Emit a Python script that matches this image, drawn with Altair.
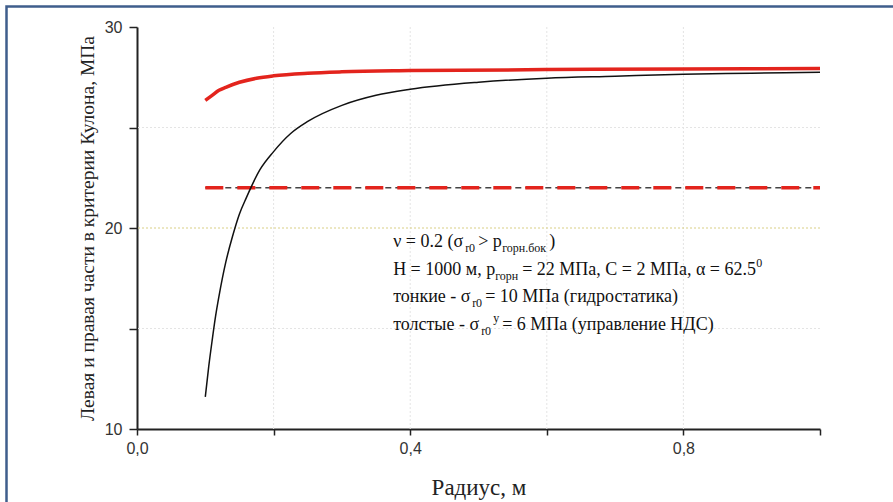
import altair as alt
import pandas as pd

# ---- data ----
black_r = [0.1, 0.105, 0.11, 0.115, 0.12, 0.13, 0.14, 0.15, 0.16, 0.18, 0.2, 0.225,
           0.25, 0.3, 0.35, 0.4, 0.5, 0.6, 0.7, 0.8, 0.9, 1.0]
black_v = [11.6, 13.1, 14.4, 15.6, 16.6, 18.3, 19.6, 20.7, 21.5, 22.9, 23.8, 24.7,
           25.3, 26.1, 26.6, 26.9, 27.25, 27.45, 27.55, 27.65, 27.7, 27.75]
red_r = [0.1, 0.11, 0.12, 0.13, 0.15, 0.175, 0.2, 0.25, 0.3, 0.4, 0.6, 0.8, 1.0]
red_v = [26.35, 26.6, 26.85, 27.0, 27.25, 27.45, 27.57, 27.7, 27.77, 27.83, 27.88, 27.91, 27.93]
dash_r = [0.1, 1.0]
dash_v = [22.0, 22.0]

x_ticks = [0.0, 0.2, 0.4, 0.6, 0.8, 1.0]
y_ticks = [10, 15, 20, 25, 30]
grid_x = [0.2, 0.4, 0.6, 0.8]
grid_y_faint = [15, 25]
grid_y_yellow = [20]

x_title = "Радиус, м"
y_title = "Левая и правая части в критерии Кулона, МПа"

# annotation text segments
seg_line = [0, 0, 0, 0, 0,
            1, 1, 1, 1,
            2, 2, 2,
            3, 3, 3, 3]
seg_text = ["ν = 0.2 (σ", "r0", " > p", "горн.бок", ")",
            "H = 1000 м, p", "горн", " = 22 МПа, C = 2 МПа, α = 62.5", "0",
            "тонкие - σ", "r0", " = 10 МПа (гидростатика)",
            "толстые - σ", "r0", "у", " = 6 МПа (управление НДС)"]
seg_kind = ["main", "sub", "main", "sub", "main",
            "main", "sub", "main", "sup",
            "main", "sub", "main",
            "main", "sub", "sup", "main"]
line_y = [19.05, 17.66, 16.32, 14.93]
text_x = 0.375

# ---- layout (pixels) ----
seg_dx = [0, 72, 85, 109, 156,
          0, 102, 129, 363,
          0, 79, 92,
          0, 88, 100, 109]

W, H = 683, 402

xs = alt.Scale(domain=[0, 1.0], nice=False, zero=False)
ys = alt.Scale(domain=[10, 30], nice=False, zero=False)

RED = "#e3241d"
SERIF = "Liberation Serif, Times New Roman, serif"

df_black = pd.DataFrame({"r": black_r, "v": black_v})
df_red = pd.DataFrame({"r": red_r, "v": red_v})
df_dash = pd.DataFrame({"r": dash_r, "v": dash_v})

xaxis = alt.Axis(
    values=x_ticks, format=".1f",
    labelExpr="(datum.value < 0.01 || abs(datum.value-0.4) < 0.01 || abs(datum.value-0.8) < 0.01) ? replace(datum.label, '.', ',') : ''",
    labelFlush=False,
    title=x_title, titleFont=SERIF, titleFontSize=23, titleFontWeight="normal",
    titleColor="#222", titlePadding=20,
    labelFont="Liberation Sans", labelFontSize=16, labelColor="#333", labelPadding=5,
    tickSize=6, tickWidth=1.5, tickColor="#222", domainColor="#222", domainWidth=2, grid=False,
)
yaxis = alt.Axis(
    values=y_ticks,
    labelExpr="(datum.value % 10 == 0) ? datum.label : ''",
    labelFlush=False,
    title=y_title, titleFont=SERIF, titleFontSize=19.5, titleFontWeight="normal",
    titleColor="#222", titlePadding=7,
    labelFont="Liberation Sans", labelFontSize=16, labelColor="#333", labelPadding=7,
    tickSize=8, tickWidth=1.5, tickColor="#222", domainColor="#222", domainWidth=2, grid=False,
)

gx = alt.Chart(pd.DataFrame({"r": grid_x})).mark_rule(
    color="#e4e4e4", strokeWidth=1, strokeDash=[2, 2]
).encode(x=alt.X("r:Q", scale=xs, axis=xaxis))

gy = alt.Chart(pd.DataFrame({"v": grid_y_faint})).mark_rule(
    color="#e4e4e4", strokeWidth=1, strokeDash=[2, 2]
).encode(y=alt.Y("v:Q", scale=ys, axis=yaxis))

gy2 = alt.Chart(pd.DataFrame({"v": grid_y_yellow})).mark_rule(
    color="#d9cf86", strokeWidth=1.2, strokeDash=[2, 2]
).encode(y=alt.Y("v:Q", scale=ys))

black_dash = alt.Chart(df_dash).mark_line(
    color="#444", strokeWidth=1.5, strokeDash=[6, 4]
).encode(x=alt.X("r:Q", scale=xs), y=alt.Y("v:Q", scale=ys))

red_dash = alt.Chart(df_dash).mark_line(
    color=RED, strokeWidth=3.5, strokeDash=[18, 14]
).encode(x=alt.X("r:Q", scale=xs), y=alt.Y("v:Q", scale=ys))

black_line = alt.Chart(df_black).mark_line(
    color="#111", strokeWidth=1.5, interpolate="monotone"
).encode(x=alt.X("r:Q", scale=xs), y=alt.Y("v:Q", scale=ys))

red_line = alt.Chart(df_red).mark_line(
    color=RED, strokeWidth=3.5, interpolate="monotone"
).encode(x=alt.X("r:Q", scale=xs), y=alt.Y("v:Q", scale=ys))

layers = [gx, gy, gy2, black_dash, red_dash, black_line, red_line]

for ln, txt, kind, dx in zip(seg_line, seg_text, seg_kind, seg_dx):
    size = 18 if kind == "main" else 12
    dy = 0 if kind == "main" else (5 if kind == "sub" else -8)
    t = alt.Chart(pd.DataFrame({"r": [text_x], "v": [line_y[ln]], "t": [txt]})).mark_text(
        align="left", baseline="alphabetic", font=SERIF, fontSize=size,
        color="#111", dx=dx, dy=dy
    ).encode(x=alt.X("r:Q", scale=xs), y=alt.Y("v:Q", scale=ys), text="t:N")
    layers.append(t)

border = alt.Chart(alt.Data(values=[{"a": 1}])).mark_rect(
    fill="transparent", stroke="#3f5e8c", strokeWidth=2.5, clip=False
).encode(
    x=alt.value(-130.5), x2=alt.value(900), y=alt.value(-20.5), y2=alt.value(600)
)
layers.append(border)

chart = alt.layer(*layers).properties(
    width=W, height=H,
    autosize=alt.AutoSizeParams(type="none"),
    padding={"left": 137, "top": 27, "right": 73, "bottom": 73},
    background="white",
).configure_view(stroke=None)

chart.save("out.html", embed_options={"renderer": "svg", "actions": False})
